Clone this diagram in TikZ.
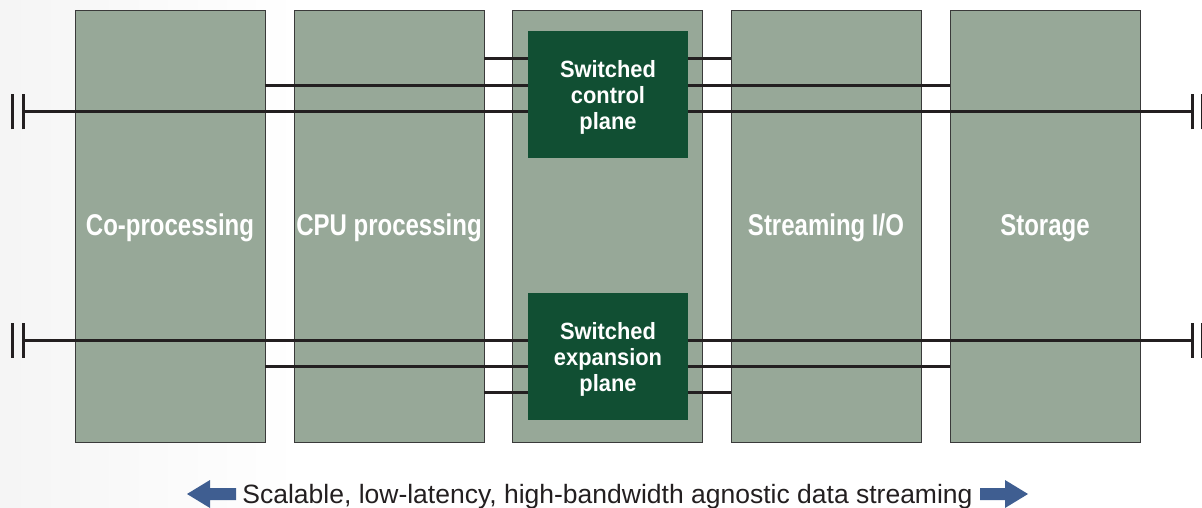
\documentclass[tikz,border=0pt]{standalone}
\usepackage{fontspec}
\setmainfont{Liberation Sans}
\newfontfamily\condfont[FakeStretch=0.8]{Liberation Sans Bold}
\newfontfamily\planefont[FakeStretch=0.93]{Liberation Sans Bold}
\definecolor{sage}{HTML}{97A898}
\definecolor{dkgreen}{HTML}{114F33}
\definecolor{busc}{HTML}{231F20}
\definecolor{arrowc}{HTML}{3F5E91}
\definecolor{edgec}{HTML}{3A3A3A}
\newcommand\topstrut{\rule{0pt}{23.5pt}}
\tikzset{
  col/.style={rectangle, draw=edgec, line width=0.9pt, fill=sage, minimum width=190pt, minimum height=432pt, inner sep=0pt, outer sep=0pt, text=white, text height=24pt, text depth=6pt, font=\condfont\fontsize{30}{34}\selectfont},
  plane/.style={rectangle, fill=dkgreen, minimum width=160pt, minimum height=127pt, inner sep=0pt, outer sep=0pt, text=white, align=center, font=\planefont\fontsize{23.5}{26}\selectfont},
  bus/.style={draw=busc, line width=3pt},
  term/.style={draw=busc, line width=3pt},
  fatarrow/.style={fill=arrowc, draw=none}
}
\begin{document}
\begin{tikzpicture}[x=1pt,y=-1pt]
\useasboundingbox (0,0) rectangle (1202,508);
\shade[left color=black!4, right color=white] (0,0) rectangle (300,508);
\fill[white] (300,0) rectangle (1202,508);
% columns
\node[col] (c1) at (170,226) {Co-processing};
\node[col] (c2) at (389,226) {CPU processing};
\node[col] (c3) at (607.5,226) {};
\node[col] (c4) at (826,226) {Streaming I/O};
\node[col] (c5) at (1045,226) {Storage};
% bus coordinates
\coordinate (yA) at (0,59);
\coordinate (yB) at (0,86);
\coordinate (yC) at (0,112);
\coordinate (yD) at (0,340);
\coordinate (yE) at (0,366);
\coordinate (yF) at (0,392);
\coordinate (LC) at (23,112);
\coordinate (RC) at (1192,112);
\coordinate (LD) at (23,340);
\coordinate (RD) at (1192,340);
% buses
\draw[bus] (c2.east |- yA) -- (c4.west |- yA);
\draw[bus] (c1.east |- yB) -- (c5.west |- yB);
\draw[bus] (LC) -- (RC);
\draw[bus] (LD) -- (RD);
\draw[bus] (c1.east |- yE) -- (c5.west |- yE);
\draw[bus] (c2.east |- yF) -- (c4.west |- yF);
% terminators
\draw[term] ([yshift=-17.5pt]LC) -- ([yshift=17.5pt]LC);
\draw[term] ([xshift=-11pt,yshift=-17.5pt]LC) -- ([xshift=-11pt,yshift=17.5pt]LC);
\draw[term] ([yshift=-17.5pt]RC) -- ([yshift=17.5pt]RC);
\draw[term] ([xshift=10pt,yshift=-17.5pt]RC) -- ([xshift=10pt,yshift=17.5pt]RC);
\draw[term] ([yshift=-17.5pt]LD) -- ([yshift=17.5pt]LD);
\draw[term] ([xshift=-11pt,yshift=-17.5pt]LD) -- ([xshift=-11pt,yshift=17.5pt]LD);
\draw[term] ([yshift=-17.5pt]RD) -- ([yshift=17.5pt]RD);
\draw[term] ([xshift=10pt,yshift=-17.5pt]RD) -- ([xshift=10pt,yshift=17.5pt]RD);
% planes
\node[plane] (ctl) at (608,94.5) {\topstrut Switched\\control\\plane};
\node[plane] (exp) at (608,356.5) {\topstrut Switched\\expansion\\plane};
% caption
\node[text=busc, font=\fontsize{26.5}{30}\selectfont, inner sep=0pt, anchor=base] (cap) at (607.5,503) {Scalable, low-latency, high-bandwidth agnostic data streaming};
\fill[fatarrow] (187,494) -- (210,480) -- (210,488) -- (236,488) -- (236,500) -- (210,500) -- (210,508) -- cycle;
\fill[fatarrow] (1028,494) -- (1005,480) -- (1005,488) -- (980,488) -- (980,500) -- (1005,500) -- (1005,508) -- cycle;
\end{tikzpicture}
\end{document}
